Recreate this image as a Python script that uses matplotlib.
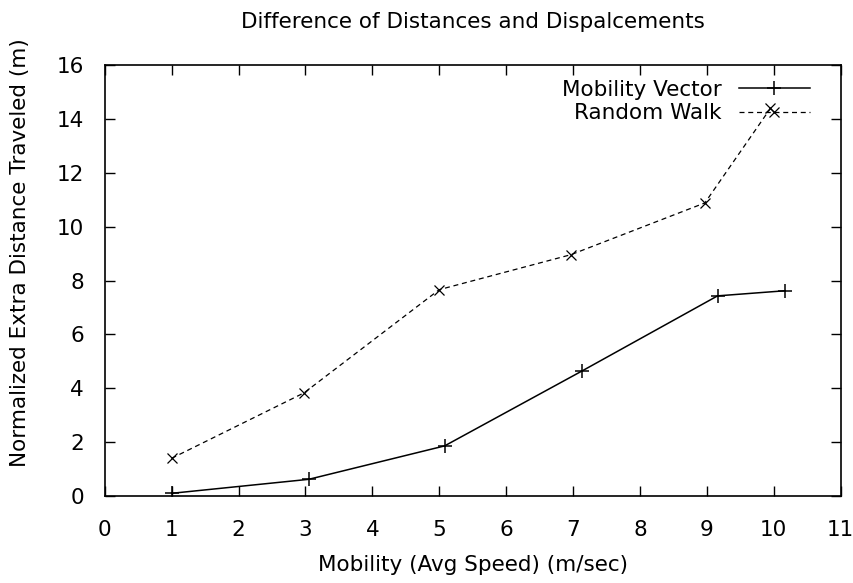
import matplotlib
matplotlib.use("Agg")
import matplotlib.pyplot as plt

mv_x = [1.0, 3.05, 5.08, 7.14, 9.16, 10.17]
mv_y = [0.1, 0.62, 1.86, 4.65, 7.43, 7.62]
rw_x = [1.0, 2.98, 5.0, 6.97, 8.97, 9.95]
rw_y = [1.40, 3.83, 7.66, 8.96, 10.88, 14.39]

x_ticks = list(range(0, 12))
y_ticks = list(range(0, 17, 2))

plt.rcParams['font.family'] = ['DejaVu Sans']
fs = 15.5

fig = plt.figure(figsize=(8.54, 5.83), dpi=100)
ax = fig.add_axes([0.1226, 0.1492, 0.8618, 0.7393])

ax.plot(mv_x, mv_y, color='black', lw=1.1, marker='+', ms=10, mew=1.1,
        label='Mobility Vector')
ax.plot(rw_x, rw_y, color='black', lw=0.9, ls=(0, (4, 3)), marker='x', ms=7, mew=0.9,
        label='Random Walk')

ax.set_xlim(0, 11)
ax.set_ylim(0, 16)
ax.set_xticks(x_ticks)
ax.set_yticks(y_ticks)
ax.tick_params(direction='in', top=True, right=True, length=7, width=1,
               labelsize=fs)
ax.tick_params(axis='x', pad=17)
ax.tick_params(axis='y', pad=15)
for s in ax.spines.values():
    s.set_linewidth(1.2)

ax.set_xlabel('Mobility (Avg Speed) (m/sec)', fontsize=fs, labelpad=11)
ax.set_ylabel('Normalized Extra Distance Traveled (m)', fontsize=fs,
              va='center', ha='center')
ax.yaxis.set_label_coords(-0.115, 0.564)
ax.set_title('Difference of Distances and Dispalcements', fontsize=fs, pad=27)

ax.legend(loc='upper right', bbox_to_anchor=(0.958, 0.966), frameon=False,
          markerfirst=False, fontsize=fs, handlelength=3.3, handletextpad=0.8,
          labelspacing=0.17, borderpad=0, borderaxespad=0)

fig.savefig('out.png', dpi=100)
